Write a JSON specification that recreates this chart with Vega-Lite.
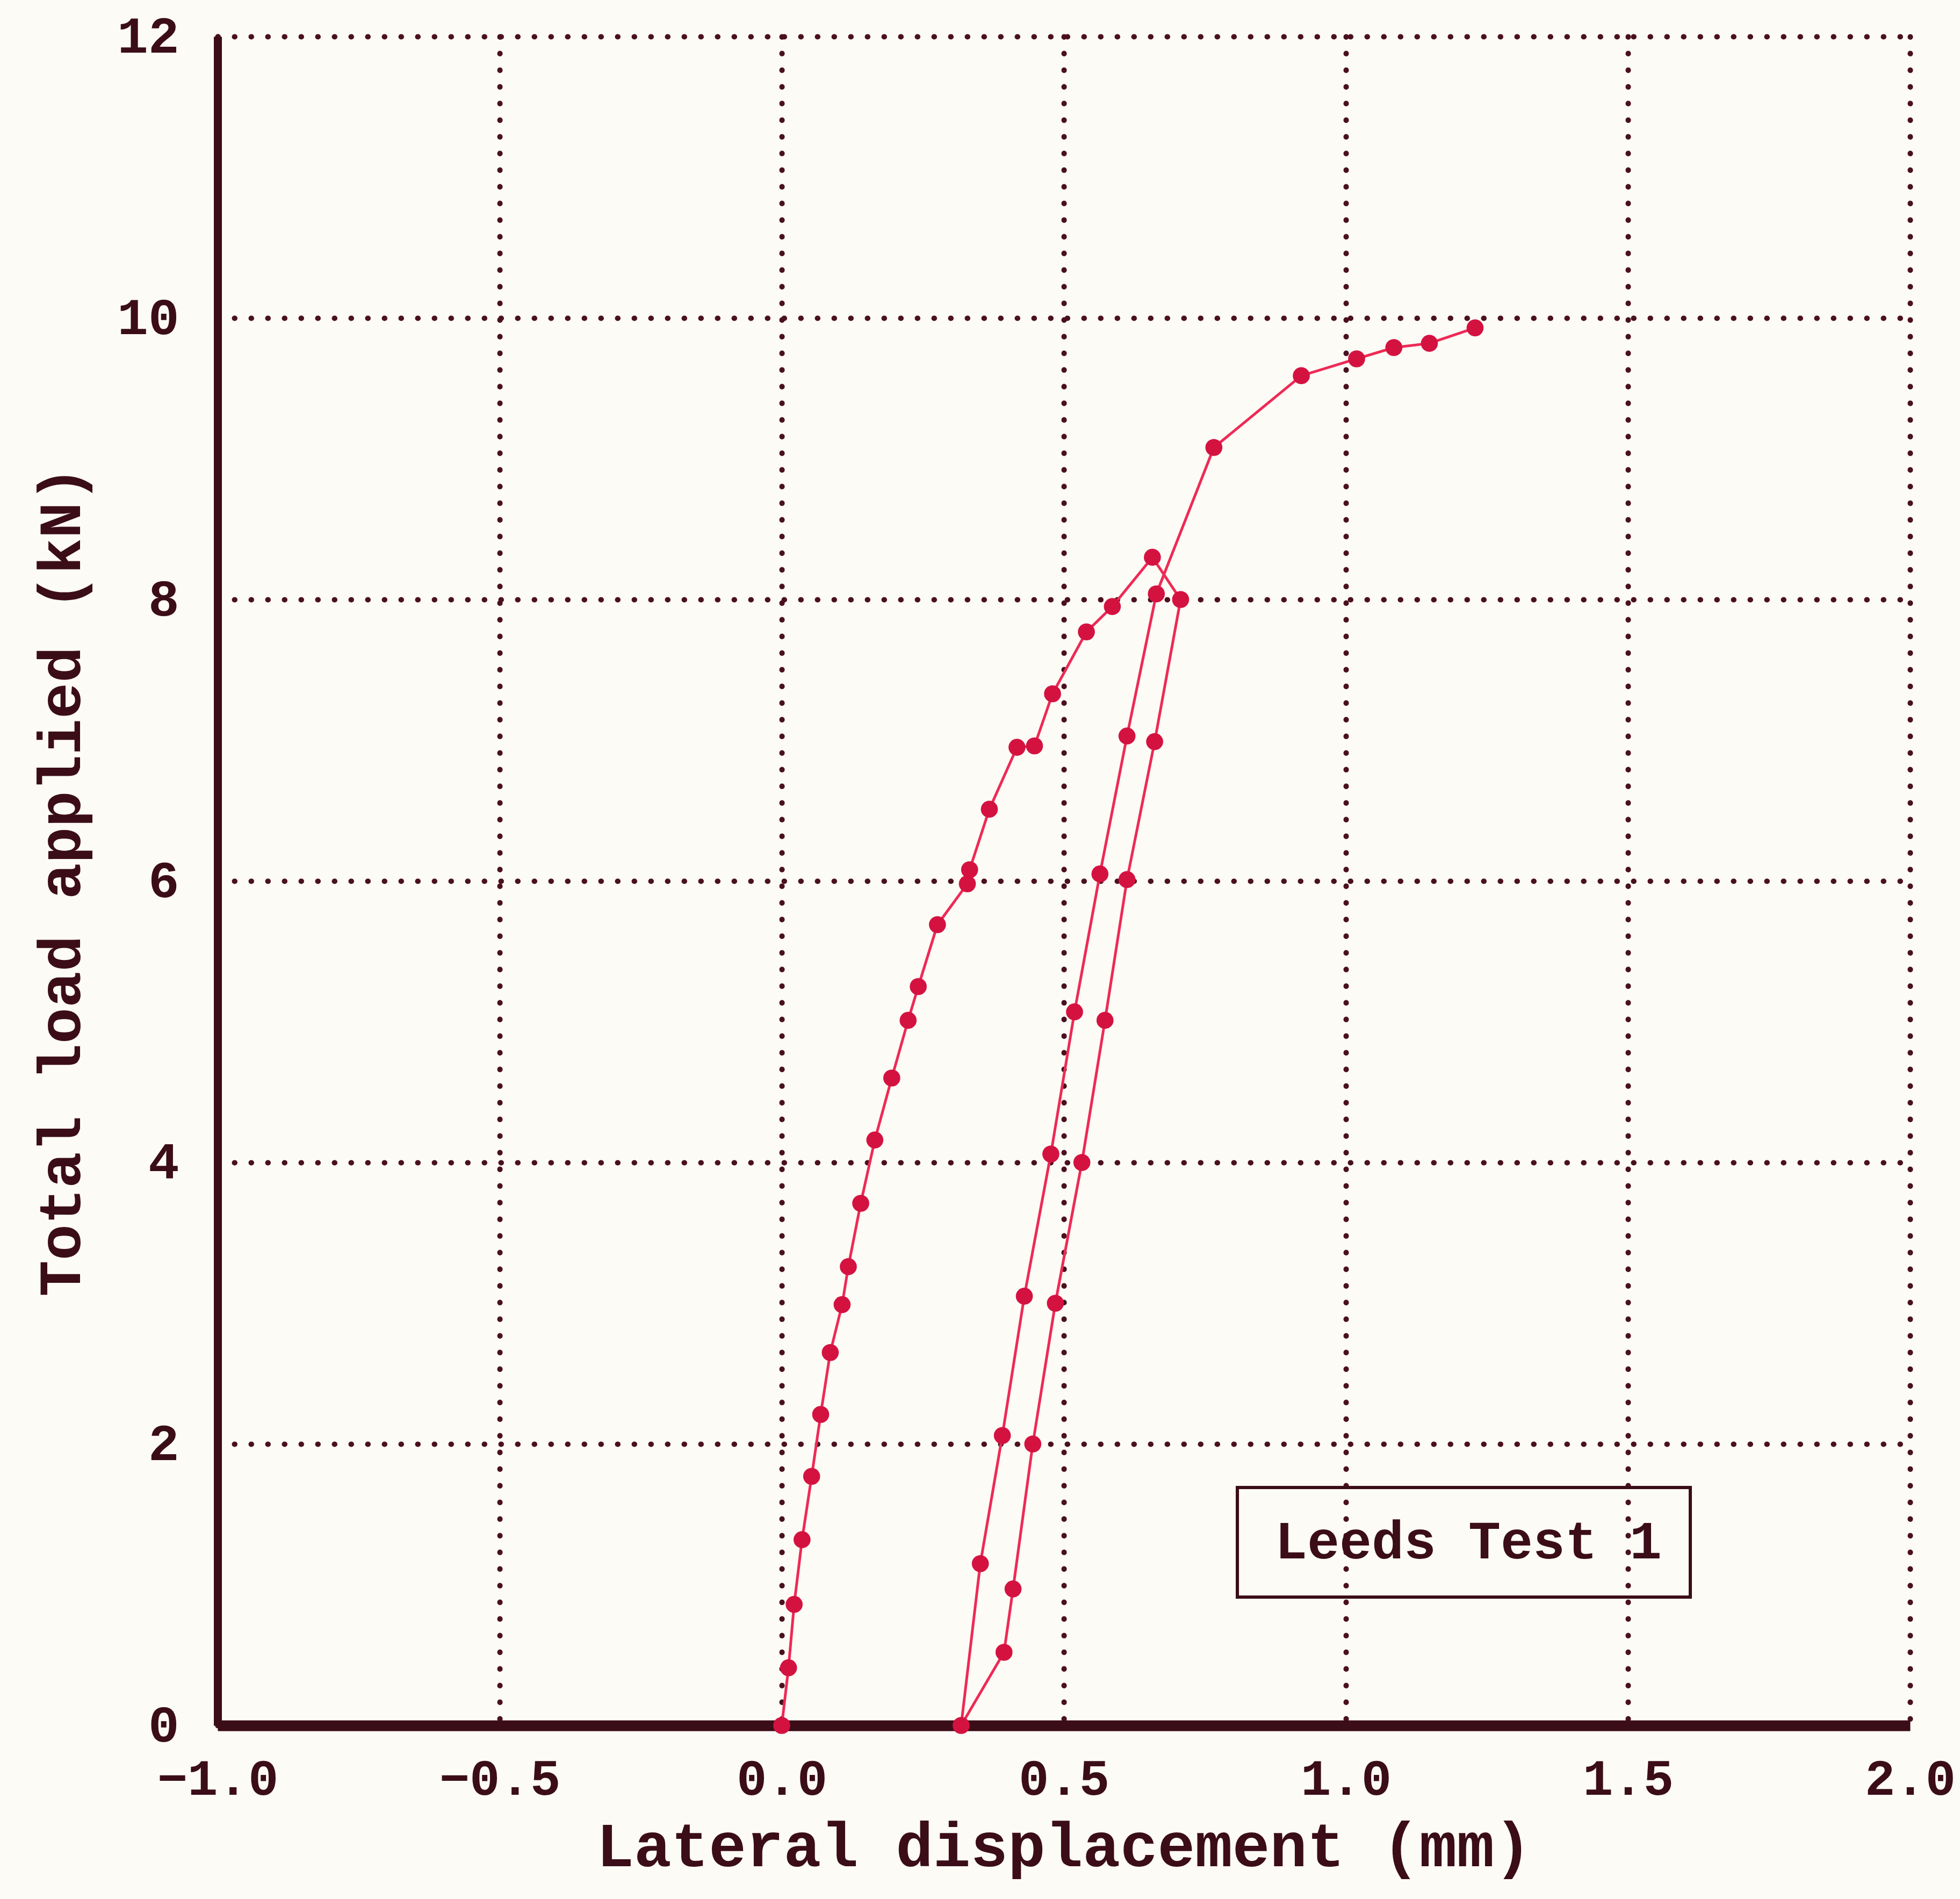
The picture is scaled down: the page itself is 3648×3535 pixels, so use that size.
{
  "$schema": "https://vega.github.io/schema/vega-lite/v6.json",
  "width": 3150,
  "height": 3144,
  "autosize": "none",
  "padding": {"left": 405, "top": 68, "right": 93, "bottom": 323},
  "background": "#fcfbf6",
  "config": {"view": {"stroke": null}, "font": "Liberation Mono"},
  "data": {
    "values": [
      {"seq": 1, "disp": 0.000, "load": 0.00, "test": "Leeds Test 1"},
      {"seq": 2, "disp": 0.012, "load": 0.41, "test": "Leeds Test 1"},
      {"seq": 3, "disp": 0.022, "load": 0.86, "test": "Leeds Test 1"},
      {"seq": 4, "disp": 0.036, "load": 1.32, "test": "Leeds Test 1"},
      {"seq": 5, "disp": 0.053, "load": 1.77, "test": "Leeds Test 1"},
      {"seq": 6, "disp": 0.069, "load": 2.21, "test": "Leeds Test 1"},
      {"seq": 7, "disp": 0.086, "load": 2.65, "test": "Leeds Test 1"},
      {"seq": 8, "disp": 0.107, "load": 2.99, "test": "Leeds Test 1"},
      {"seq": 9, "disp": 0.118, "load": 3.26, "test": "Leeds Test 1"},
      {"seq": 10, "disp": 0.140, "load": 3.71, "test": "Leeds Test 1"},
      {"seq": 11, "disp": 0.165, "load": 4.16, "test": "Leeds Test 1"},
      {"seq": 12, "disp": 0.195, "load": 4.60, "test": "Leeds Test 1"},
      {"seq": 13, "disp": 0.224, "load": 5.01, "test": "Leeds Test 1"},
      {"seq": 14, "disp": 0.242, "load": 5.25, "test": "Leeds Test 1"},
      {"seq": 15, "disp": 0.276, "load": 5.69, "test": "Leeds Test 1"},
      {"seq": 16, "disp": 0.329, "load": 5.98, "test": "Leeds Test 1"},
      {"seq": 17, "disp": 0.333, "load": 6.08, "test": "Leeds Test 1"},
      {"seq": 18, "disp": 0.368, "load": 6.51, "test": "Leeds Test 1"},
      {"seq": 19, "disp": 0.417, "load": 6.95, "test": "Leeds Test 1"},
      {"seq": 20, "disp": 0.448, "load": 6.96, "test": "Leeds Test 1"},
      {"seq": 21, "disp": 0.480, "load": 7.33, "test": "Leeds Test 1"},
      {"seq": 22, "disp": 0.540, "load": 7.77, "test": "Leeds Test 1"},
      {"seq": 23, "disp": 0.586, "load": 7.95, "test": "Leeds Test 1"},
      {"seq": 24, "disp": 0.657, "load": 8.30, "test": "Leeds Test 1"},
      {"seq": 25, "disp": 0.707, "load": 8.00, "test": "Leeds Test 1"},
      {"seq": 26, "disp": 0.661, "load": 6.99, "test": "Leeds Test 1"},
      {"seq": 27, "disp": 0.612, "load": 6.01, "test": "Leeds Test 1"},
      {"seq": 28, "disp": 0.573, "load": 5.01, "test": "Leeds Test 1"},
      {"seq": 29, "disp": 0.532, "load": 4.00, "test": "Leeds Test 1"},
      {"seq": 30, "disp": 0.485, "load": 3.00, "test": "Leeds Test 1"},
      {"seq": 31, "disp": 0.445, "load": 2.00, "test": "Leeds Test 1"},
      {"seq": 32, "disp": 0.410, "load": 0.97, "test": "Leeds Test 1"},
      {"seq": 33, "disp": 0.394, "load": 0.52, "test": "Leeds Test 1"},
      {"seq": 34, "disp": 0.318, "load": 0.00, "test": "Leeds Test 1"},
      {"seq": 35, "disp": 0.352, "load": 1.15, "test": "Leeds Test 1"},
      {"seq": 36, "disp": 0.391, "load": 2.06, "test": "Leeds Test 1"},
      {"seq": 37, "disp": 0.430, "load": 3.05, "test": "Leeds Test 1"},
      {"seq": 38, "disp": 0.477, "load": 4.06, "test": "Leeds Test 1"},
      {"seq": 39, "disp": 0.519, "load": 5.07, "test": "Leeds Test 1"},
      {"seq": 40, "disp": 0.564, "load": 6.05, "test": "Leeds Test 1"},
      {"seq": 41, "disp": 0.612, "load": 7.03, "test": "Leeds Test 1"},
      {"seq": 42, "disp": 0.664, "load": 8.04, "test": "Leeds Test 1"},
      {"seq": 43, "disp": 0.766, "load": 9.08, "test": "Leeds Test 1"},
      {"seq": 44, "disp": 0.921, "load": 9.59, "test": "Leeds Test 1"},
      {"seq": 45, "disp": 1.019, "load": 9.71, "test": "Leeds Test 1"},
      {"seq": 46, "disp": 1.085, "load": 9.79, "test": "Leeds Test 1"},
      {"seq": 47, "disp": 1.148, "load": 9.82, "test": "Leeds Test 1"},
      {"seq": 48, "disp": 1.229, "load": 9.93, "test": "Leeds Test 1"}
    ]
  },
  "encoding": {
    "x": {
      "field": "disp",
      "type": "quantitative",
      "scale": {"domain": [-1, 2], "nice": false, "zero": false},
      "axis": {
        "values": [-1, -0.5, 0, 0.5, 1, 1.5, 2],
        "format": ".1f",
        "ticks": false,
        "labelFlush": false,
        "labelLimit": 1000,
        "labelFont": "Liberation Mono",
        "labelFontSize": 94,
        "labelFontWeight": "bold",
        "labelColor": "#3b0d18",
        "labelPadding": 54,
        "domainColor": "#3b0d18",
        "domainWidth": 20,
        "grid": true,
        "gridColor": "#4a1020",
        "gridDash": [0.5, 30.5],
        "gridCap": "round",
        "gridWidth": 10,
        "title": "Lateral displacement (mm)",
        "titleFont": "Liberation Mono",
        "titleFontSize": 116,
        "titleFontWeight": "bold",
        "titleColor": "#3b0d18",
        "titlePadding": 22
      }
    },
    "y": {
      "field": "load",
      "type": "quantitative",
      "scale": {"domain": [0, 12], "nice": false, "zero": false},
      "axis": {
        "values": [0, 2, 4, 6, 8, 10, 12],
        "format": "d",
        "ticks": false,
        "labelFlush": false,
        "labelLimit": 1000,
        "labelFont": "Liberation Mono",
        "labelFontSize": 96,
        "labelFontWeight": "bold",
        "labelColor": "#3b0d18",
        "labelPadding": 72,
        "domainColor": "#3b0d18",
        "domainWidth": 15,
        "grid": true,
        "gridColor": "#4a1020",
        "gridDash": [0.5, 30.5],
        "gridCap": "round",
        "gridWidth": 10,
        "title": "Total load applied (kN)",
        "titleFont": "Liberation Mono",
        "titleFontSize": 112,
        "titleFontWeight": "bold",
        "titleColor": "#3b0d18",
        "titlePadding": 45
      }
    },
    "order": {"field": "seq", "type": "quantitative"}
  },
  "layer": [
    {
      "mark": {"type": "line", "strokeWidth": 5},
      "encoding": {
        "color": {
          "field": "test",
          "type": "nominal",
          "scale": {"range": ["#ee2a55"]},
          "legend": {
            "title": null,
            "orient": "none",
            "legendX": 1898,
            "legendY": 2701,
            "strokeColor": "#3b0d18",
            "padding": 52,
            "labelFont": "Liberation Mono",
            "labelFontSize": 100,
            "labelFontWeight": "bold",
            "labelColor": "#3b0d18",
            "labelOffset": -82,
            "labelLimit": 2000,
            "symbolSize": 0,
            "symbolStrokeWidth": 0,
            "symbolOpacity": 0,
            "encode": {"legend": {"update": {"strokeWidth": {"value": 6}}}}
          }
        }
      }
    },
    {
      "mark": {"type": "point", "filled": true, "size": 1000, "color": "#d41240", "opacity": 1}
    }
  ]
}
